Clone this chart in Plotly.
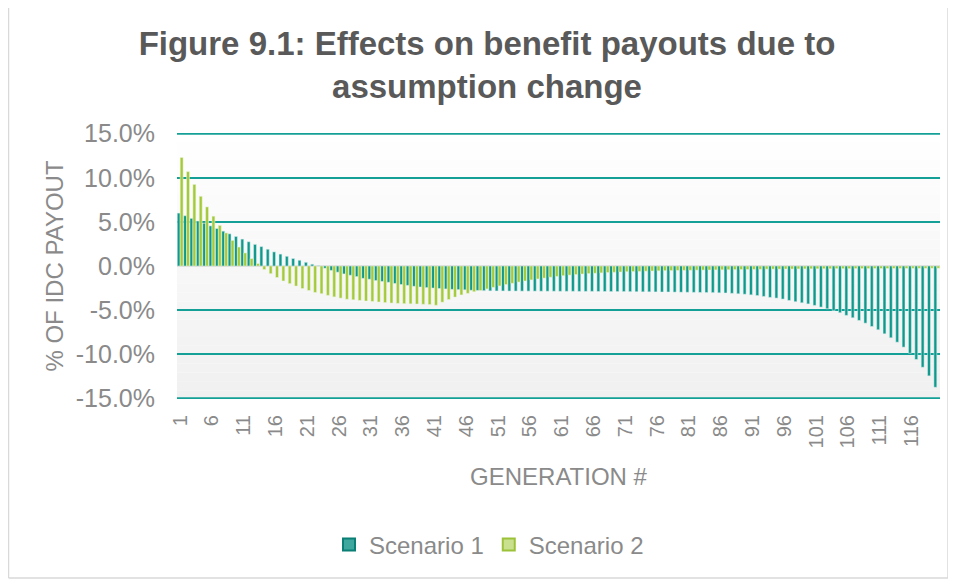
import plotly.graph_objects as go

generations = list(range(1, 121))

scenario_1 = [
    6.0, 5.7, 5.4, 5.1, 4.85, 4.55, 4.25, 3.95, 3.65, 3.35,
    3.05, 2.75, 2.45, 2.2, 1.9, 1.6, 1.35, 1.1, 0.85, 0.65,
    0.42, 0.2, 0.03, -0.25, -0.5, -0.7, -0.9, -1.05, -1.2, -1.4,
    -1.5, -1.65, -1.75, -1.85, -1.98, -2.1, -2.2, -2.3, -2.38, -2.45,
    -2.5, -2.55, -2.6, -2.65, -2.68, -2.7, -2.75, -2.77, -2.8, -2.82,
    -2.83, -2.83, -2.84, -2.84, -2.85, -2.85, -2.85, -2.86, -2.86, -2.86,
    -2.87, -2.87, -2.87, -2.88, -2.88, -2.88, -2.89, -2.89, -2.9, -2.9,
    -2.9, -2.91, -2.92, -2.93, -2.93, -2.94, -2.95, -2.95, -2.96, -2.97,
    -2.98, -2.99, -3.0, -3.01, -3.02, -3.04, -3.06, -3.1, -3.15, -3.2,
    -3.27, -3.35, -3.45, -3.56, -3.64, -3.75, -3.9, -4.05, -4.17, -4.3,
    -4.47, -4.66, -4.85, -5.04, -5.3, -5.6, -5.87, -6.17, -6.48, -6.86,
    -7.23, -7.69, -8.14, -8.64, -9.2, -9.89, -10.6, -11.48, -12.46, -13.75,
]

scenario_2 = [
    12.3, 10.7, 9.25, 7.9, 6.7, 5.65, 4.6, 3.75, 2.9, 2.15,
    1.48, 0.83, 0.27, -0.4, -0.87, -1.3, -1.7, -2.0, -2.27, -2.55,
    -2.77, -3.0, -3.14, -3.33, -3.5, -3.64, -3.77, -3.83, -3.9, -3.97,
    -4.02, -4.08, -4.15, -4.2, -4.24, -4.27, -4.29, -4.31, -4.34, -4.37,
    -4.45, -4.1, -3.8, -3.52, -3.28, -3.1, -2.92, -2.78, -2.6, -2.42,
    -2.26, -2.1, -1.96, -1.82, -1.7, -1.58, -1.47, -1.37, -1.27, -1.18,
    -1.1, -1.03, -0.97, -0.91, -0.86, -0.82, -0.78, -0.74, -0.71, -0.68,
    -0.65, -0.63, -0.61, -0.59, -0.57, -0.55, -0.53, -0.52, -0.5, -0.49,
    -0.48, -0.47, -0.46, -0.45, -0.44, -0.43, -0.42, -0.41, -0.4, -0.39,
    -0.38, -0.37, -0.36, -0.35, -0.35, -0.34, -0.34, -0.33, -0.33, -0.32,
    -0.32, -0.31, -0.31, -0.3, -0.3, -0.3, -0.29, -0.29, -0.29, -0.28,
    -0.28, -0.28, -0.27, -0.27, -0.27, -0.26, -0.26, -0.26, -0.25, -0.25,
]

x_tick_values = list(range(1, 121, 5))
x_tick_labels = [str(v) for v in x_tick_values]
y_tick_values = [-15, -10, -5, 0, 5, 10, 15]
y_tick_labels = ["-15.0%", "-10.0%", "-5.0%", "0.0%", "5.0%", "10.0%", "15.0%"]

TEAL = "#0f998d"
GREEN = "#a4c93a"
GRAY = "#8a8a8a"
GRID = "#14a096"
BORDER = "#d9d9d9"
FONT = "Liberation Sans, Arial, sans-serif"

# page has an 8px body margin, so the figure is drawn from (8, 8)
OFF = 8
W, H = 956 - OFF, 580 - OFF
ML, MR, MT, MB = 177 - OFF, 16, 133 - OFF, 181
PW, PH = W - ML - MR, H - MT - MB


def px_x(p):
    return (p - OFF - ML) / PW


def px_y(p):
    return (H - MB - (p - OFF)) / PH


fig = go.Figure()
fig.add_trace(go.Bar(
    x=generations, y=scenario_1, name="Scenario 1", showlegend=False,
    marker=dict(color=TEAL, line=dict(color="rgba(220,240,238,0.9)", width=0.6)),
))
fig.add_trace(go.Bar(
    x=generations, y=scenario_2, name="Scenario 2", showlegend=False,
    marker=dict(color=GREEN, line=dict(color="rgba(235,245,215,0.9)", width=0.6)),
))
# legend entries
fig.add_trace(go.Scatter(
    x=[None], y=[None], mode="markers", name="Scenario 1",
    marker=dict(symbol="square", size=12, color="#3fa89e", line=dict(color="#0b7f75", width=2)),
))
fig.add_trace(go.Scatter(
    x=[None], y=[None], mode="markers", name="Scenario 2",
    marker=dict(symbol="square", size=12, color="#c9e08e", line=dict(color="#9cc23a", width=2)),
))

# gradient plot background (white -> light gray)
n_bands = 30
for i in range(n_bands):
    g = int(round(255 - (255 - 240) * (i / (n_bands - 1))))
    fig.add_shape(
        type="rect", xref="x domain", yref="y domain",
        x0=0, x1=1, y0=1 - (i + 1) / n_bands, y1=1 - i / n_bands,
        fillcolor=f"rgb({g},{g},{g})", line=dict(width=0), layer="below",
    )

# gridlines at the range ends (plotly skips them at the edges)
for yv in (y_tick_values[0], y_tick_values[-1]):
    fig.add_shape(type="line", xref="x domain", yref="y", x0=0, x1=1, y0=yv, y1=yv,
                  line=dict(color=GRID, width=2))

# outer chart border: left, right and bottom edges
bx0, bx1, by0, by1 = px_x(8.5), px_x(948), px_y(578), px_y(0)
for (ax0, ay0, ax1, ay1) in [(bx0, by0, bx0, by1), (bx1, by0, bx1, by1), (bx0, by0, bx1, by0)]:
    fig.add_shape(type="line", xref="paper", yref="paper", x0=ax0, y0=ay0, x1=ax1, y1=ay1,
                  line=dict(color=BORDER, width=1.5), layer="below")

fig.update_layout(
    width=W, height=H,
    margin=dict(l=ML, r=MR, t=MT, b=MB, autoexpand=False),
    paper_bgcolor="white",
    plot_bgcolor="rgba(0,0,0,0)",
    barmode="group",
    bargap=0.08,
    bargroupgap=0.0,
    font=dict(family=FONT, color=GRAY, size=20),
    title=dict(
        text="<b>Figure 9.1: Effects on benefit payouts due to<br>assumption change</b>",
        x=px_x(487), xanchor="center", xref="paper",
        y=(H - (55 - OFF)) / H, yanchor="middle",
        font=dict(family=FONT, size=33, color="#595959"),
    ),
    xaxis=dict(
        range=[0.5, 120.5], automargin=False,
        tickmode="array", tickvals=x_tick_values, ticktext=x_tick_labels,
        tickangle=-90, tickfont=dict(size=20, color=GRAY),
        showgrid=False, zeroline=False, showline=False,
        ticks="outside", ticklen=7, tickcolor="rgba(0,0,0,0)",
        title=dict(text="GENERATION #", font=dict(size=24, color=GRAY), standoff=20),
    ),
    yaxis=dict(
        range=[-15.08, 15.08], automargin=False,
        tickmode="array", tickvals=y_tick_values, ticktext=y_tick_labels,
        tickfont=dict(size=25, color=GRAY),
        showgrid=True, gridcolor=GRID, gridwidth=2,
        zeroline=True, zerolinecolor="#dcdcdc", zerolinewidth=1.5,
        showline=False, ticks="outside", ticklen=16, tickcolor="rgba(0,0,0,0)",
        title=dict(text="% OF IDC PAYOUT", font=dict(size=24, color=GRAY), standoff=5),
    ),
    legend=dict(
        orientation="h", x=px_x(489), xanchor="center", y=px_y(545), yanchor="middle",
        font=dict(size=24, color=GRAY), itemwidth=30,
    ),
)

fig.write_html("out.html")
